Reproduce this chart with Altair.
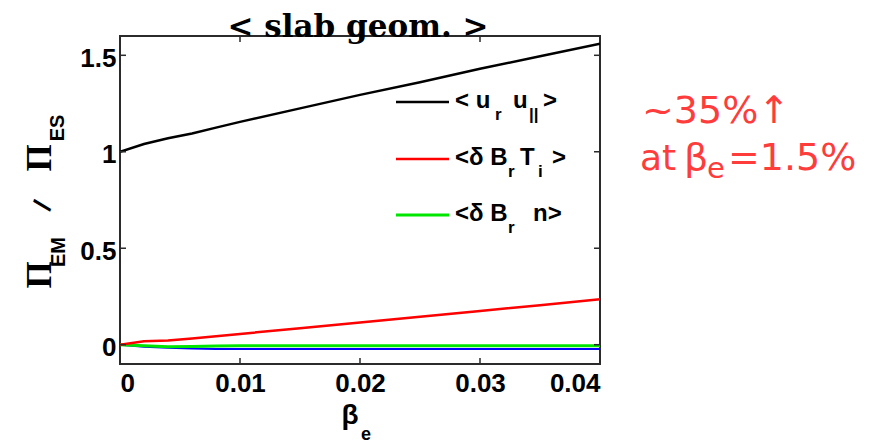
import altair as alt
import pandas as pd

# ---- data -------------------------------------------------------------
beta_e = [0, 0.002, 0.004, 0.006, 0.008, 0.01, 0.015, 0.02, 0.025, 0.03, 0.035, 0.04]
flux_ur_upar = [1.0, 1.04, 1.07, 1.095, 1.125, 1.155, 1.225, 1.295, 1.36, 1.43, 1.495, 1.56]
flux_dBr_Ti = [0.0, 0.018, 0.022, 0.032, 0.044, 0.056, 0.085, 0.115, 0.145, 0.175, 0.205, 0.236]
flux_dBr_n = [0.0, -0.006, -0.01, -0.009, -0.007, -0.006, -0.006, -0.006, -0.006, -0.006, -0.006, -0.006]
flux_total_em = [0.0, -0.01, -0.016, -0.02, -0.022, -0.022, -0.022, -0.022, -0.022, -0.022, -0.022, -0.022]

series_names = ["total", "dBr_n", "dBr_Ti", "ur_upar"]
series_values = [flux_total_em, flux_dBr_n, flux_dBr_Ti, flux_ur_upar]
series_colors = ["#0000ff", "#00e600", "#ff0000", "#000000"]
series_widths = [2.0, 3.0, 2.5, 2.5]

x_ticks = [0, 0.01, 0.02, 0.03, 0.04]
y_ticks = [0, 0.5, 1, 1.5]
x_domain = [0, 0.04]
y_domain = [-0.1, 1.6]

W, H = 480, 328
AXIS_FONT = "Liberation Sans"

x_scale = alt.Scale(domain=x_domain, nice=False, zero=False)
y_scale = alt.Scale(domain=y_domain, nice=False, zero=False)
x_axis = alt.Axis(values=x_ticks, format="~g", ticks=False, domain=False, grid=False,
                  labelFont=AXIS_FONT, labelFontSize=26, labelFontWeight="bold",
                  labelColor="#000", labelPadding=6, title=None)
y_axis = alt.Axis(values=y_ticks, format="~g", ticks=False, domain=False, grid=False,
                  labelFont=AXIS_FONT, labelFontSize=26, labelFontWeight="bold",
                  labelColor="#000", labelPadding=4, labelOffset=3, title=None)


def one_row():
    return pd.DataFrame({"_": [0]})


def text_at(txt, x, y, size, color="#000", font=AXIS_FONT, weight="bold",
            align="left", baseline="alphabetic", angle=0):
    return alt.Chart(one_row()).mark_text(
        text=txt, font=font, fontSize=size, fontWeight=weight, color=color,
        align=align, baseline=baseline, angle=angle
    ).encode(x=alt.value(x), y=alt.value(y))


# ---- curves -----------------------------------------------------------
layers = []
for name, vals, col, sw in zip(series_names, series_values, series_colors, series_widths):
    df = pd.DataFrame({"beta": beta_e, "flux": vals, "series": name})
    layers.append(
        alt.Chart(df).mark_line(color=col, strokeWidth=sw, clip=True).encode(
            x=alt.X("beta:Q", scale=x_scale, axis=x_axis),
            y=alt.Y("flux:Q", scale=y_scale, axis=y_axis),
        )
    )

# ---- inward ticks on all four sides -----------------------------------
xt = pd.DataFrame({"v": x_ticks})
yt = pd.DataFrame({"v": y_ticks})
tick_style = dict(color="#2b2b2b", strokeWidth=1.5)
for y0, y1 in [(H, H - 6), (0, 6)]:
    layers.append(alt.Chart(xt).mark_rule(**tick_style).encode(
        x=alt.X("v:Q", scale=x_scale, axis=x_axis), y=alt.value(y0), y2=alt.value(y1)))
for x0, x1 in [(0, 6), (W, W - 6)]:
    layers.append(alt.Chart(yt).mark_rule(**tick_style).encode(
        y=alt.Y("v:Q", scale=y_scale, axis=y_axis), x=alt.value(x0), x2=alt.value(x1)))

# ---- legend (drawn inside the frame) ----------------------------------
legend_colors = ["#000000", "#ff0000", "#00e600"]
legend_widths = [2.5, 2.5, 3.0]
legend_line_y = [66, 123, 179]
legend_pieces = [
    [("< u", 335, 0), ("r", 375, 1), ("u", 393, 0), ("||", 409, 1), (">", 423, 0)],
    [("<\u03b4 B", 335, 0), ("r", 388, 1), ("T", 400, 0), ("i", 418, 1), (">", 432, 0)],
    [("<\u03b4 B", 335, 0), ("r", 388, 1), ("n>", 413, 0)],
]
for col, sw, ly, pieces in zip(legend_colors, legend_widths, legend_line_y, legend_pieces):
    layers.append(alt.Chart(one_row()).mark_rule(color=col, strokeWidth=sw).encode(
        x=alt.value(276), x2=alt.value(329), y=alt.value(ly)))
    for txt, px, is_sub in pieces:
        if is_sub:
            layers.append(text_at(txt, px, ly + 18, 17))
        else:
            layers.append(text_at(txt, px, ly + 6, 24))

# ---- axis titles ------------------------------------------------------
layers += [
    text_at("\u03b2", 230, 388, 28, align="center"),
    text_at("e", 241, 404, 18),
    text_at("\u03a0", -80, 239, 35, font="Liberation Serif", align="center",
            baseline="middle", angle=270),
    text_at("EM", -61, 216, 20, align="center", baseline="middle", angle=270),
    text_at("/", -79, 169, 26, align="center", baseline="middle", angle=110),
    text_at("\u03a0", -80, 122, 35, font="Liberation Serif", align="center",
            baseline="middle", angle=270),
    text_at("ES", -62, 92, 20, align="center", baseline="middle", angle=270),
]

# ---- title and side note ----------------------------------------------
NOTE_RED = "#ff3c3c"
note_style = dict(color=NOTE_RED, font="DejaVu Sans", weight="normal")
layers += [
    text_at("< slab geom. >", 238, 1, 31, font="DejaVu Serif", align="center"),
    text_at("~35%\u2191", 522, 87, 38, **note_style),
    text_at("at", 520, 134, 36, **note_style),
    text_at("\u03b2", 564, 134, 38, **note_style),
    text_at("e", 587, 142, 29, **note_style),
    text_at("=1.5%", 608, 134, 38, **note_style),
]

chart = alt.layer(*layers).properties(
    width=W, height=H,
    autosize=alt.AutoSizeParams(type="none"),
    padding={"left": 120, "top": 36, "right": 274, "bottom": 84},
    background="white",
).configure_view(stroke="#2b2b2b", strokeWidth=2)

chart.save("out.html", embed_options={"renderer": "svg", "actions": False})
